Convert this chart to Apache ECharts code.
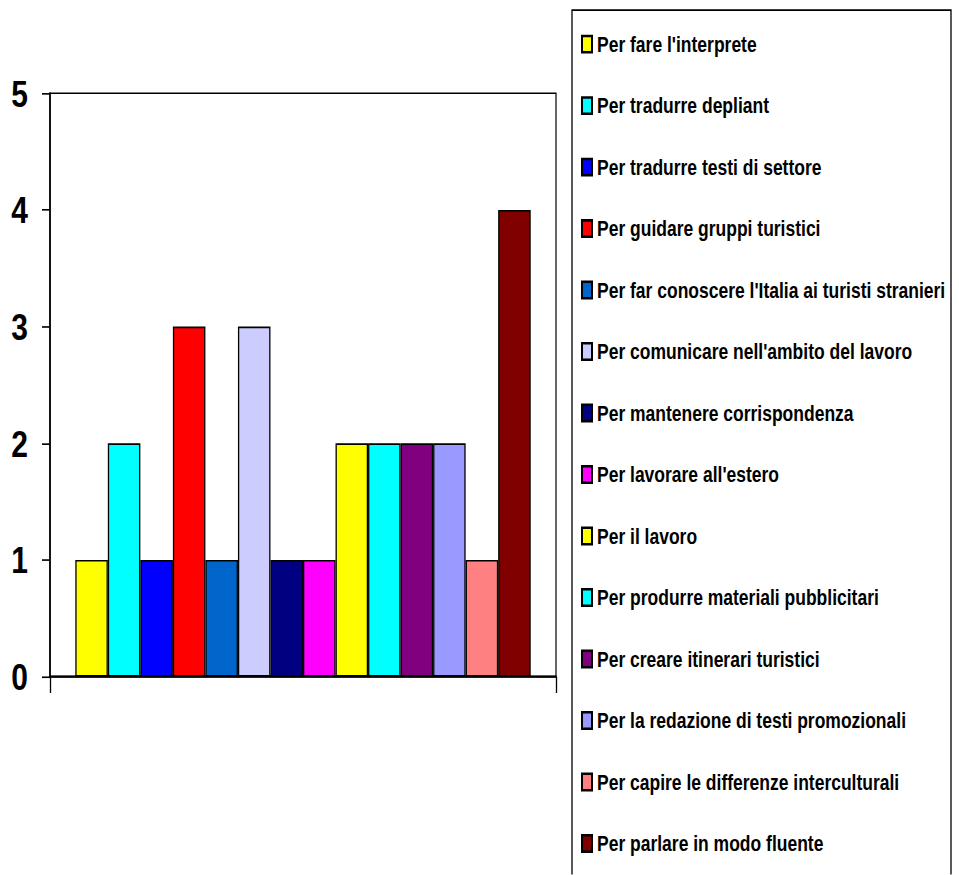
<!DOCTYPE html>
<html>
<head>
<meta charset="utf-8">
<script src="https://cdn.jsdelivr.net/npm/echarts@6/dist/echarts.min.js"></script>
<style>
html,body{margin:0;padding:0;background:#fff;overflow:hidden;}
#wrap{width:959px;height:875px;overflow:hidden;position:relative;}
#chart{width:959px;height:694px;transform:scaleY(1.26);transform-origin:0 0;}
</style>
</head>
<body>
<div id="wrap"><div id="chart"></div></div>
<script>
const categories = [''];
const seriesNames = [
  "Per fare l'interprete",
  "Per tradurre depliant",
  "Per tradurre testi di settore",
  "Per guidare gruppi turistici",
  "Per far conoscere l'Italia ai turisti stranieri",
  "Per comunicare nell'ambito del lavoro",
  "Per mantenere corrispondenza",
  "Per lavorare all'estero",
  "Per il lavoro",
  "Per produrre materiali pubblicitari",
  "Per creare itinerari turistici",
  "Per la redazione di testi promozionali",
  "Per capire le differenze interculturali",
  "Per parlare in modo fluente"
];
const seriesValues = [1, 2, 1, 3, 1, 3, 1, 1, 2, 2, 2, 2, 1, 4];
const seriesColors = ['#FFFF00','#00FFFF','#0000FF','#FF0000','#0066CC','#CCCCFF','#000080','#FF00FF','#FFFF00','#00FFFF','#800080','#9999FF','#FF8080','#800000'];
const yTicks = [0, 1, 2, 3, 4, 5];

const FONT = "'Liberation Sans Narrow', 'Arial Narrow', 'Liberation Sans', sans-serif";
const chart = echarts.init(document.getElementById('chart'), null, {renderer: 'svg'});
chart.setOption({
  animation: false,
  backgroundColor: '#fff',
  grid: {left: 50, right: 403, top: 74, bottom: 157, show: true, borderColor: '#000', borderWidth: 1.2, backgroundColor: 'transparent'},
  graphic: [{
    type: 'rect',
    shape: {x: 572, y: 8, width: 379, height: 720},
    style: {fill: 'none', stroke: '#000', lineWidth: 1.3},
    silent: true
  }],
  legend: {
    orient: 'vertical', left: 570, top: 8,
    padding: [18, 4, 4, 11],
    itemWidth: 10, itemHeight: 13, itemGap: 30.8,
    icon: 'rect',
    textStyle: {fontFamily: FONT, fontWeight: 'bold', fontSize: 17.5, color: '#000'},
    data: seriesNames
  },
  xAxis: {
    type: 'category', data: categories,
    axisLine: {lineStyle: {color: '#000', width: 1.6}},
    axisTick: {show: true, length: 13, lineStyle: {color: '#000', width: 1.3}},
    axisLabel: {show: false},
    splitLine: {show: false}
  },
  yAxis: {
    type: 'value', min: 0, max: 5, interval: 1,
    axisLine: {show: true, lineStyle: {color: '#000', width: 1.6}},
    axisTick: {show: true, length: 8, lineStyle: {color: '#000', width: 1.3}},
    axisLabel: {fontFamily: FONT, fontWeight: 'bold', fontSize: 30, color: '#000', margin: 22,
      formatter: v => yTicks.includes(v) ? String(v) : ''},
    splitLine: {show: false}
  },
  series: seriesNames.map((name, i) => ({
    name: name, type: 'bar',
    data: [seriesValues[i]],
    barGap: '0%', barCategoryGap: '10%',
    itemStyle: {color: seriesColors[i], borderColor: '#000', borderWidth: 1.3}
  }))
});
</script>
</body>
</html>
